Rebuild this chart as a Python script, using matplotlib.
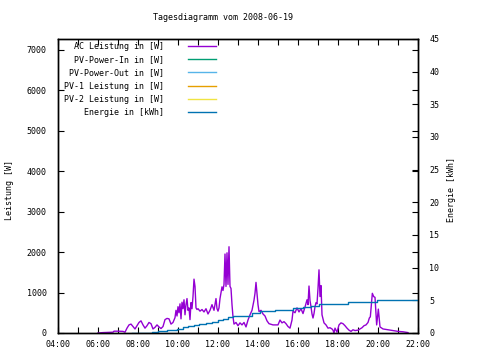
import matplotlib
matplotlib.use("Agg")
import matplotlib.pyplot as plt
from matplotlib.ticker import MultipleLocator

plt.rcParams['font.family'] = 'DejaVu Sans Mono'
plt.rcParams['font.size'] = 6

# AC Leistung [W]
ac_time = ["06:00", "06:15", "06:30", "06:45", "06:48", "07:00", "07:15", "07:21", "07:27", "07:33",
           "07:39", "07:45", "07:51", "07:57", "08:03", "08:09", "08:15", "08:21", "08:27", "08:33",
           "08:39", "08:45", "08:51", "08:57", "09:03", "09:09", "09:15", "09:21", "09:27", "09:33",
           "09:39", "09:45", "09:51", "09:54", "09:57", "10:00", "10:03", "10:06", "10:09", "10:12",
           "10:15", "10:18", "10:21", "10:24", "10:27", "10:30", "10:33", "10:36", "10:39", "10:42",
           "10:45", "10:48", "10:51", "10:54", "10:57", "11:00", "11:06", "11:12", "11:18", "11:24",
           "11:30", "11:36", "11:42", "11:48", "11:54", "11:57", "12:00", "12:03", "12:06", "12:09",
           "12:12", "12:15", "12:18", "12:21", "12:24", "12:27", "12:30", "12:33", "12:36", "12:39",
           "12:42", "12:45", "12:48", "12:54", "13:00", "13:06", "13:12", "13:18", "13:24", "13:30",
           "13:36", "13:42", "13:48", "13:51", "13:54", "14:00", "14:03", "14:09", "14:15", "14:21",
           "14:27", "14:33", "14:45", "15:00", "15:06", "15:12", "15:18", "15:24", "15:30", "15:36",
           "15:42", "15:45", "15:51", "15:57", "16:03", "16:09", "16:15", "16:21", "16:27", "16:30",
           "16:33", "16:36", "16:39", "16:42", "16:45", "16:48", "16:51", "16:54", "16:57", "17:00",
           "17:03", "17:06", "17:09", "17:12", "17:18", "17:24", "17:30", "17:36", "17:42", "17:45",
           "17:48", "17:51", "17:57", "18:03", "18:09", "18:15", "18:21", "18:27", "18:33", "18:39",
           "18:45", "18:51", "19:00", "19:06", "19:12", "19:18", "19:24", "19:30", "19:34", "19:37",
           "19:40", "19:43", "19:47", "19:51", "19:56", "20:01", "20:06", "20:15", "20:30", "20:45",
           "21:00", "21:15", "21:30"]
ac_power = [0, 10, 15, 20, 45, 45, 40, 20, 120, 200,
            220, 160, 100, 180, 260, 300, 200, 120, 180, 260,
            230, 100, 140, 200, 150, 110, 160, 330, 360, 350,
            220, 260, 380, 560, 420, 650, 500, 720, 350, 760,
            600, 820, 450, 700, 850, 560, 620, 330, 750, 600,
            900, 1330, 1150, 620, 580, 600, 540, 580, 520, 600,
            470, 560, 700, 560, 850, 600, 540, 620, 850, 1000,
            1140, 1050, 1200, 1950, 1150, 1980, 1200, 2130, 1150, 1100,
            700, 400, 220, 260, 180, 250, 200, 260, 150, 320,
            450, 560, 810, 980, 1250, 700, 530, 560, 470, 420,
            300, 230, 200, 200, 320, 250, 280, 230, 160, 120,
            320, 540, 500, 620, 520, 600, 480, 640, 820, 700,
            1160, 800, 650, 470, 370, 480, 650, 750, 720, 1100,
            1560, 900, 1170, 450, 250, 200, 120, 130, 100, 70,
            0, 120, 20, 200, 250, 230, 180, 120, 70, 40,
            80, 60, 70, 100, 130, 180, 200, 260, 370, 400,
            700, 980, 900, 880, 200, 590, 150, 100, 80, 60,
            40, 30, 10]

# Energie [kWh]
en_time = ["07:42", "08:42", "09:00", "09:27", "09:57", "10:15", "10:30", "10:48", "11:03", "11:24",
           "11:42", "12:00", "12:15", "12:30", "12:44", "13:41", "14:06", "14:51", "15:46", "16:15",
           "16:40", "17:04", "18:30", "19:56", "22:00"]
en_value = [0.02, 0.1, 0.25, 0.45, 0.65, 0.85, 1.05, 1.2, 1.35, 1.5,
            1.7, 1.95, 2.2, 2.45, 2.65, 3.1, 3.35, 3.55, 3.8, 3.95,
            4.15, 4.5, 4.75, 5.0, 5.0]

hour_ticks = [4, 6, 8, 10, 12, 14, 16, 18, 20, 22]
hour_labels = ["04:00", "06:00", "08:00", "10:00", "12:00", "14:00", "16:00", "18:00", "20:00", "22:00"]


def to_hours(t):
    h, m = t.split(":")
    return int(h) + int(m) / 60.0


fig = plt.figure(figsize=(4.8, 3.6), dpi=100)
ax = fig.add_axes([58 / 480, 27 / 360, 360 / 480, 294 / 360])
ax2 = ax.twinx()

# gnuplot-style right aligned keys: pad labels to same width (monospace font)
ax.plot([to_hours(t) for t in ac_time], ac_power, color='#9400D3', lw=1.0, label='AC Leistung in [W]'.rjust(20))
ax.plot([], [], color='#009E73', lw=1.0, label='PV-Power-In in [W]'.rjust(20))
ax.plot([], [], color='#56B4E9', lw=1.0, label='PV-Power-Out in [W]'.rjust(20))
ax.plot([], [], color='#E69F00', lw=1.0, label='PV-1 Leistung in [W]'.rjust(20))
ax.plot([], [], color='#F0E442', lw=1.0, label='PV-2 Leistung in [W]'.rjust(20))
ax2.plot([to_hours(t) for t in en_time], en_value, color='#0072B2', lw=1.0,
         drawstyle='steps-post', label='Energie in [kWh]'.rjust(20))

ax.set_xlim(4, 22)
ax.set_ylim(0, 7260)
ax2.set_ylim(0, 45)
ax.set_xticks(hour_ticks)
ax.set_xticklabels(hour_labels)
ax.xaxis.set_minor_locator(MultipleLocator(1))
ax.yaxis.set_major_locator(MultipleLocator(1000))
ax2.yaxis.set_major_locator(MultipleLocator(5))

ax.tick_params(axis='x', which='both', direction='in', length=4, width=0.8, top=True, pad=5)
ax.tick_params(axis='y', which='both', direction='in', length=4, width=0.8, right=True, pad=8)
ax2.tick_params(axis='y', direction='in', length=4, width=0.8, pad=8)

fig.text(10 / 480, 1 - 190 / 360, 'Leistung [W]', rotation=90, ha='center', va='center')
fig.text(452 / 480, 1 - 190 / 360, 'Energie [kWh]', rotation=90, ha='center', va='center')
fig.text(223 / 480, 1 - 18 / 360, 'Tagesdiagramm vom 2008-06-19', ha='center', va='center')

h1, l1 = ax.get_legend_handles_labels()
h2, l2 = ax2.get_legend_handles_labels()
ax2.legend(h1 + h2, l1 + l2, loc='upper left', bbox_to_anchor=(62 / 480, 1 - 40 / 360),
           bbox_transform=fig.transFigure, frameon=False, markerfirst=False,
           handlelength=3.4, handletextpad=2.9, labelspacing=0.52, borderpad=0.2, borderaxespad=0)

for a in (ax, ax2):
    for s in a.spines.values():
        s.set_linewidth(1.0)

fig.savefig('out.png', dpi=100)
